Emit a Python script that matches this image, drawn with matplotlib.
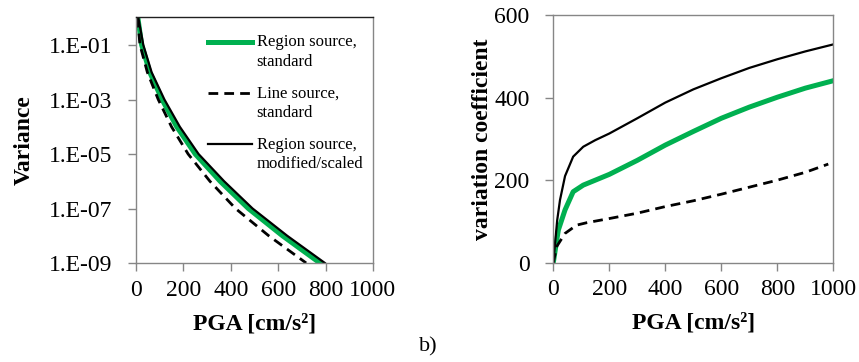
import numpy as np
import matplotlib
matplotlib.use('Agg')
import matplotlib.pyplot as plt
from matplotlib.ticker import FixedLocator, FixedFormatter

plt.rcParams['font.family'] = ['Liberation Serif', 'DejaVu Serif']

# --- left panel: variance (log scale) vs PGA
var_log = [0, -1, -2, -3, -4, -5, -6, -7, -8, -9]
pga_region_std = [8, 24, 58, 110, 172, 250, 355, 474, 618, 776]
pga_line_std = [6, 17, 48, 94, 150, 220, 312, 420, 560, 718]
pga_region_mod = [10, 31, 66, 120, 185, 264, 372, 492, 638, 797]

# --- right panel: variation coefficient vs PGA
pga_b_region_std = [0, 18, 42, 71, 107, 150, 200, 300, 400, 500, 600, 700, 800, 900, 1000]
vc_region_std = [0, 79, 128, 172, 188, 200, 214, 248, 285, 318, 350, 377, 401, 423, 441]
pga_b_line_std = [0, 12, 42, 83, 120, 200, 300, 400, 500, 600, 700, 800, 900, 982]
vc_line_std = [0, 39, 71, 91, 97, 107, 120, 136, 150, 166, 183, 200, 219, 239]
pga_b_region_mod = [0, 14, 24, 42, 71, 107, 150, 200, 300, 400, 500, 600, 700, 800, 900, 1000]
vc_region_mod = [0, 103, 152, 210, 257, 281, 297, 313, 350, 388, 420, 447, 472, 493, 512, 529]

labels = ['Region source,\nstandard', 'Line source,\nstandard', 'Region source,\nmodified/scaled']
green = '#00b050'
spine_col = '#868686'

fig = plt.figure(figsize=(8.59, 3.62), dpi=100)
ax1 = fig.add_axes([0.1583, 0.2735, 0.2759, 0.6796])
ax2 = fig.add_axes([0.6441, 0.2743, 0.3260, 0.6840])

def style_axes(ax):
    for side in ['left', 'right', 'top', 'bottom']:
        ax.spines[side].set_color(spine_col)
        ax.spines[side].set_linewidth(1.0)
    ax.tick_params(direction='out', length=6, width=1.0, color=spine_col, labelsize=17)
    ax.tick_params(axis='x', pad=6)
    ax.tick_params(axis='y', pad=11)

# left
v1 = 10.0 ** np.array(var_log)
ax1.plot(pga_region_std, v1, color=green, lw=3.6, label=labels[0])
ax1.plot(pga_line_std, v1, color='black', lw=2.0, dashes=(3.5, 2.2), label=labels[1])
ax1.plot(pga_region_mod, v1, color='black', lw=1.6, label=labels[2])
ax1.set_yscale('log')
ax1.set_xlim(0, 1000)
ax1.set_ylim(1e-9, 10 ** 0.03)
ax1.set_xticks([0, 200, 400, 600, 800, 1000])
yt = [1e-1, 1e-3, 1e-5, 1e-7, 1e-9]
ax1.yaxis.set_major_locator(FixedLocator(yt))
ax1.yaxis.set_major_formatter(FixedFormatter(['1.E-01', '1.E-03', '1.E-05', '1.E-07', '1.E-09']))
ax1.yaxis.set_minor_locator(FixedLocator([]))
style_axes(ax1)
ax1.spines['top'].set_color('#202020')
ax1.set_ylabel('Variance', fontsize=17, fontweight='bold', labelpad=10)
ax1.set_xlabel('PGA [cm/s²]', fontsize=17, fontweight='bold', labelpad=9)

leg = ax1.legend(loc='upper left', bbox_to_anchor=(0.305, 0.93), frameon=False,
                 fontsize=12, handlelength=2.65, handletextpad=0.25,
                 labelspacing=0.95, borderpad=0, borderaxespad=0)
for t in leg.get_texts():
    t.set_linespacing(1.28)
for ln in leg.get_lines():
    ln.set_ydata(np.asarray(ln.get_ydata()) + 7.5)

# right
ax2.plot(pga_b_region_std, vc_region_std, color=green, lw=3.6)
ax2.plot(pga_b_line_std, vc_line_std, color='black', lw=2.0, dashes=(3.5, 2.2))
ax2.plot(pga_b_region_mod, vc_region_mod, color='black', lw=1.6)
ax2.set_xlim(0, 1000)
ax2.set_ylim(0, 600)
ax2.set_xticks([0, 200, 400, 600, 800, 1000])
ax2.set_yticks([0, 200, 400, 600])
style_axes(ax2)
ax2.set_ylabel('variation coefficient', fontsize=17, fontweight='bold', labelpad=1)
ax2.set_xlabel('PGA [cm/s²]', fontsize=17, fontweight='bold', labelpad=9)

fig.text(428 / 859, 1 - 347 / 362, 'b)', fontsize=16, ha='center', va='center')

fig.savefig('out.png', dpi=100)
